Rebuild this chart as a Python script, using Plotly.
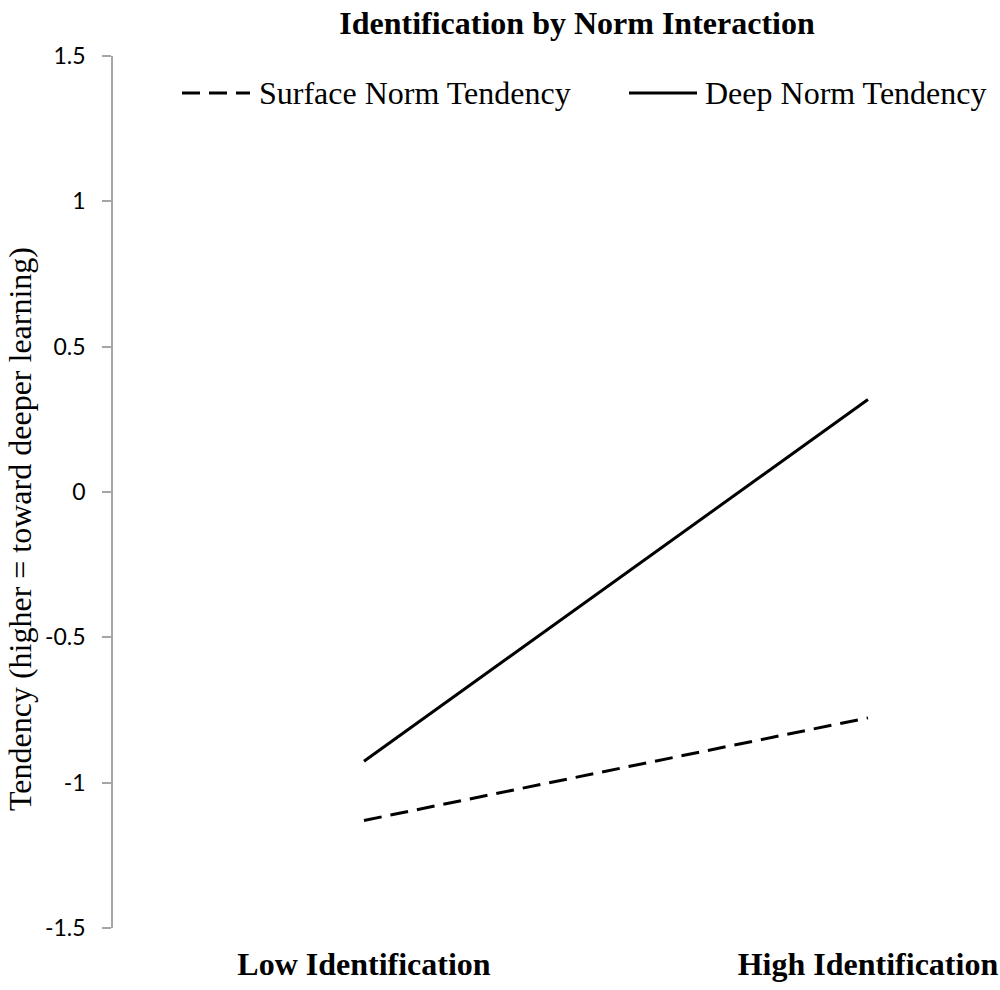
import plotly.graph_objects as go

# ---- data ----
categories = ["Low Identification", "High Identification"]
cat_pos = [0, 1]
surface_norm = [-1.13, -0.777]
deep_norm = [-0.926, 0.318]
series_names = ["Surface Norm Tendency", "Deep Norm Tendency"]
y_tickvals = [-1.5, -1.0, -0.5, 0.0, 0.5, 1.0, 1.5]
y_ticktext = ["-1.5", "-1", "-0.5", "0", "0.5", "1", "1.5"]

W, H = 1000, 990
ML, MR, MT, MB = 113, 0, 56, 62
PW, PH = W - ML - MR, H - MT - MB

def px_x(px):
    return (px - ML) / PW

def px_y(py):
    return (H - MB - py) / PH

SERIF = "Liberation Serif, Times New Roman, serif"
DASH = "18px,9px"

fig = go.Figure()
fig.add_trace(go.Scatter(
    x=cat_pos, y=surface_norm, mode="lines", name=series_names[0],
    line=dict(color="black", width=3, dash=DASH), showlegend=False,
))
fig.add_trace(go.Scatter(
    x=cat_pos, y=deep_norm, mode="lines", name=series_names[1],
    line=dict(color="black", width=3), showlegend=False,
))

# manual legend (long line samples as in the reference)
leg_y = px_y(93)
fig.add_shape(type="line", xref="paper", yref="paper",
              x0=px_x(182), x1=px_x(250), y0=leg_y, y1=leg_y,
              line=dict(color="black", width=3, dash=DASH))
fig.add_shape(type="line", xref="paper", yref="paper",
              x0=px_x(629), x1=px_x(697), y0=leg_y, y1=leg_y,
              line=dict(color="black", width=3))
fig.add_annotation(xref="paper", yref="paper", x=px_x(257), y=leg_y,
                   xanchor="left", yanchor="middle", showarrow=False,
                   text=series_names[0], font=dict(family=SERIF, size=32, color="black"))
fig.add_annotation(xref="paper", yref="paper", x=px_x(703), y=leg_y,
                   xanchor="left", yanchor="middle", showarrow=False,
                   text=series_names[1], font=dict(family=SERIF, size=32, color="black"))

# y-axis title
fig.add_annotation(xref="paper", yref="paper", x=px_x(20), y=px_y(529),
                   xanchor="center", yanchor="middle", showarrow=False, textangle=-90,
                   text="Tendency (higher = toward deeper learning)",
                   font=dict(family=SERIF, size=32, color="black"))

fig.update_layout(
    width=W, height=H,
    margin=dict(l=ML, r=MR, t=MT, b=MB),
    paper_bgcolor="white", plot_bgcolor="white",
    showlegend=False,
    title=dict(text="<b>Identification by Norm Interaction</b>",
               xref="container", yref="container",
               x=577 / W, xanchor="center", y=1 - 23 / H, yanchor="middle",
               font=dict(family=SERIF, size=32, color="black")),
    xaxis=dict(range=[-0.498, 1.262], tickvals=cat_pos,
               ticktext=["<b>%s</b>" % c for c in categories],
               showgrid=False, zeroline=False, showline=False, ticks="",
               tickfont=dict(family=SERIF, size=32, color="black"),
               ticklabelstandoff=14),
    yaxis=dict(range=[-1.5, 1.5], tickvals=y_tickvals, ticktext=y_ticktext,
               showgrid=False, zeroline=False, showline=True,
               linecolor="#A6A6A6", linewidth=1.5,
               ticks="outside", ticklen=9, tickcolor="#A6A6A6", tickwidth=1.5,
               tickfont=dict(family="Lato, Carlito, Calibri, sans-serif", size=23, color="black"),
               ticklabelstandoff=12),
)

fig.write_html("out.html", config={"displayModeBar": False},
               post_script="document.body.style.margin='0';document.body.style.overflow='hidden';")
